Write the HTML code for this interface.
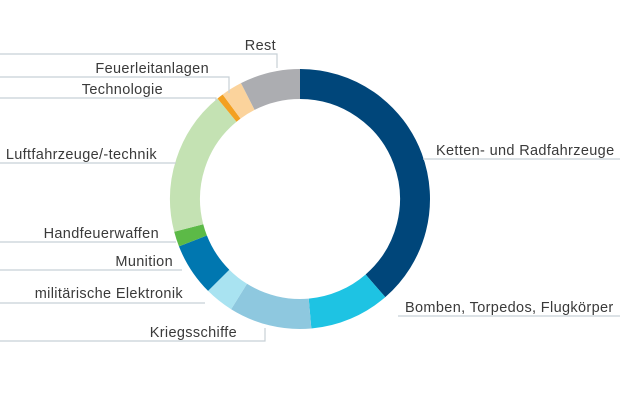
<!DOCTYPE html>
<html><head><meta charset="utf-8"><style>
html,body{margin:0;padding:0;background:#fff;width:620px;height:413px;overflow:hidden}
svg text{font-family:"Liberation Sans",sans-serif;font-size:14.5px;letter-spacing:0.35px;fill:#3a3a3a}
</style></head><body>
<svg width="620" height="413" viewBox="0 0 620 413" xmlns="http://www.w3.org/2000/svg">
<g id="ring"></g>
<g stroke="#c8d0d6" stroke-width="1.2" fill="none">
<polyline points="0,54 277,54 277,68"/>
<polyline points="0,77 229,77 229,93"/>
<polyline points="0,98 216,98 216,101"/>
<polyline points="0,163 176,163"/>
<polyline points="0,242 176,242"/>
<polyline points="0,270 182,270"/>
<polyline points="0,303 205,303"/>
<polyline points="0,341 265,341 265,328"/>
<polyline points="423,159 620,159"/>
<polyline points="398,316 620,316"/>
</g>
<text x="276" y="50" text-anchor="end">Rest</text>
<text x="209" y="73" text-anchor="end">Feuerleitanlagen</text>
<text x="163" y="94" text-anchor="end">Technologie</text>
<text x="157" y="159" text-anchor="end">Luftfahrzeuge/-technik</text>
<text x="159" y="238" text-anchor="end">Handfeuerwaffen</text>
<text x="173" y="266" text-anchor="end">Munition</text>
<text x="183" y="298" text-anchor="end">militärische Elektronik</text>
<text x="237" y="337" text-anchor="end">Kriegsschiffe</text>
<text x="436" y="155">Ketten- und Radfahrzeuge</text>
<text x="405" y="312">Bomben, Torpedos, Flugkörper</text>
<script>
(function(){
var cx=300,cy=199,r=115;
var segs=[[0,139,"#00467a"],[139,175,"#1ec3e3"],[175,212,"#8ec8df"],[212,225,"#a9e3f1"],[225,248.6,"#0077b0"],[248.6,255.4,"#5cba47"],[255.4,320.6,"#c4e2b3"],[320.6,323.5,"#f3a021"],[323.5,333,"#fbd39c"],[333,360,"#acadb1"]];
var g=document.getElementById("ring"),ns="http://www.w3.org/2000/svg";
function pt(a){a=a*Math.PI/180;return [cx+r*Math.sin(a),cy-r*Math.cos(a)];}
segs.forEach(function(s){var p0=pt(s[0]),p1=pt(s[1]);var large=(s[1]-s[0])>180?1:0;
var e=document.createElementNS(ns,"path");
e.setAttribute("d","M"+p0[0]+","+p0[1]+" A"+r+","+r+" 0 "+large+" 1 "+p1[0]+","+p1[1]);
e.setAttribute("fill","none");e.setAttribute("stroke",s[2]);e.setAttribute("stroke-width","30");g.appendChild(e);});
})();
</script>
</svg>
</body></html>
